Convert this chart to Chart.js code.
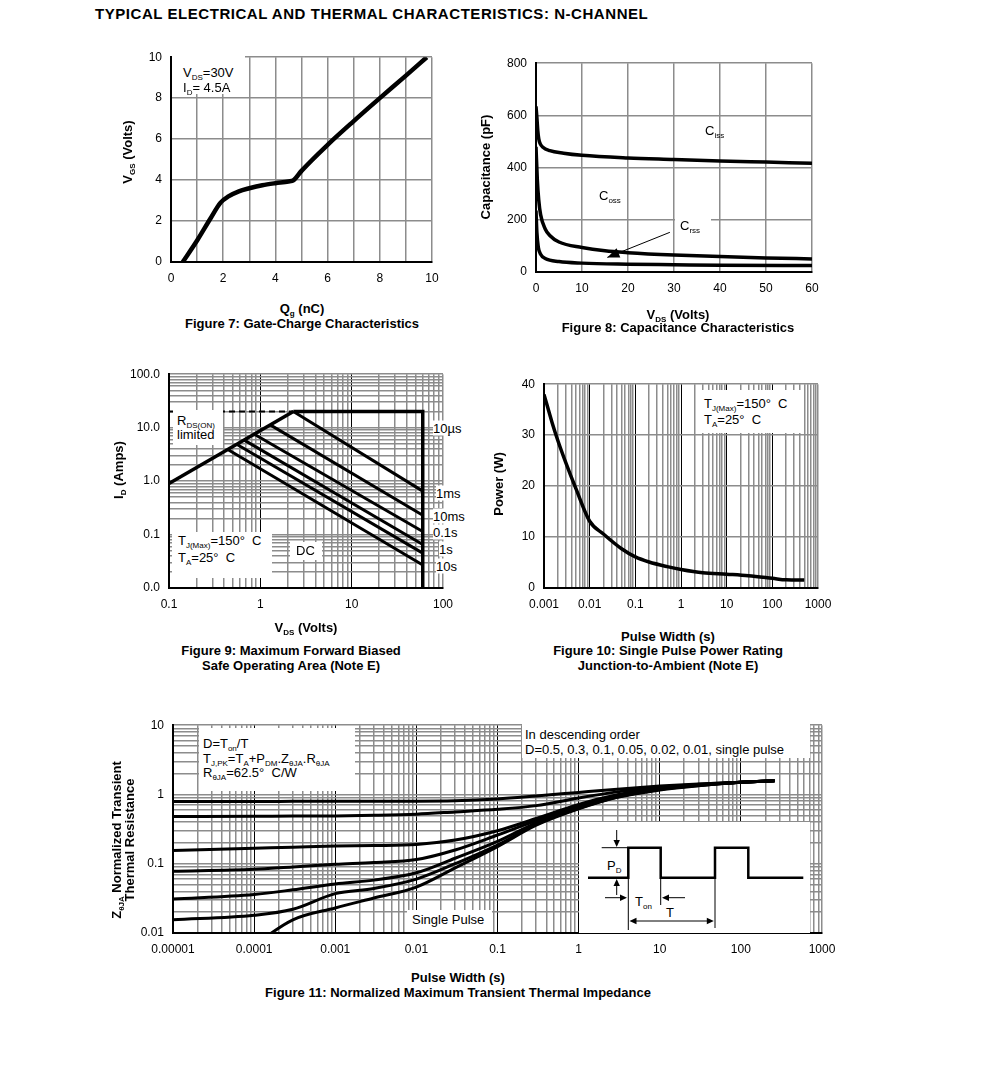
<!DOCTYPE html>
<html>
<head>
<meta charset="utf-8">
<script src="https://cdn.jsdelivr.net/npm/chart.js@4.4.1/dist/chart.umd.min.js"></script>
<style>
body{margin:0;background:#fff;width:991px;height:1067px;position:relative;overflow:hidden;font-family:"Liberation Sans",Arial,sans-serif;color:#000}
canvas{position:absolute}
.t{position:absolute;white-space:nowrap;font-size:13px;line-height:15px}
.b{font-weight:bold}
.c{transform:translate(-50%,-50%);text-align:center}
.m{transform:translateY(-50%)}
.r{transform:translate(-50%,-50%) rotate(-90deg);text-align:center}
.box{position:absolute;background:#fff}
sub{font-size:8px;vertical-align:-3px;line-height:0}
</style>
</head>
<body>
<div class="t b m" style="left:95px;top:13px;font-size:15px;letter-spacing:0.55px">TYPICAL ELECTRICAL AND THERMAL CHARACTERISTICS: N-CHANNEL</div>

<canvas id="fig7"></canvas>
<canvas id="fig8"></canvas>
<canvas id="fig9"></canvas>
<canvas id="fig10"></canvas>
<canvas id="fig11"></canvas>

<!-- Figure 7 -->
<div class="box" style="left:172px;top:54px;width:73px;height:40px"></div>
<div class="t m" style="left:183px;top:72px">V<sub>DS</sub>=30V</div>
<div class="t m" style="left:183px;top:87px">I<sub>D</sub>= 4.5A</div>
<div class="t b r" style="left:127px;top:152px">V<sub>GS</sub> (Volts)</div>
<div class="t b c" style="left:302px;top:308px">Q<sub>g</sub> (nC)</div>
<div class="t b c" style="left:302px;top:323px">Figure 7: Gate-Charge Characteristics</div>

<!-- Figure 8 -->
<div class="t m" style="left:705px;top:130px">C<sub>iss</sub></div>
<div class="t m" style="left:599px;top:195px">C<sub>oss</sub></div>
<div class="box" style="left:675px;top:215px;width:36px;height:21px"></div>
<div class="t m" style="left:680px;top:225px">C<sub>rss</sub></div>
<div class="t b r" style="left:485px;top:167px">Capacitance (pF)</div>
<div class="t b c" style="left:678px;top:314px">V<sub>DS</sub> (Volts)</div>
<div class="t b c" style="left:678px;top:327px">Figure 8: Capacitance Characteristics</div>

<!-- Figure 9 -->
<div class="box" style="left:173px;top:410px;width:50px;height:35px"></div>
<div class="t m" style="left:177px;top:420px">R<sub>DS(ON)</sub></div>
<div class="t m" style="left:177px;top:434px">limited</div>
<div class="box" style="left:172px;top:532px;width:100px;height:46px"></div>
<div class="t m" style="left:178px;top:540px">T<sub>J(Max)</sub>=150°&nbsp; C</div>
<div class="t m" style="left:178px;top:557px">T<sub>A</sub>=25°&nbsp; C</div>
<div class="box" style="left:290px;top:542px;width:32px;height:18px"></div>
<div class="t m" style="left:296px;top:550px">DC</div>
<div class="t m" style="left:433px;top:428px;background:#fff;padding-right:2px">10µs</div>
<div class="t m" style="left:436px;top:493px;background:#fff;padding-right:2px">1ms</div>
<div class="t m" style="left:433px;top:516px;background:#fff;padding-right:2px">10ms</div>
<div class="t m" style="left:433px;top:532px;background:#fff;padding-right:2px">0.1s</div>
<div class="t m" style="left:439px;top:549px;background:#fff;padding-right:2px">1s</div>
<div class="t m" style="left:436px;top:566px;background:#fff;padding-right:2px">10s</div>
<div class="t b r" style="left:118px;top:470px">I<sub>D</sub> (Amps)</div>
<div class="t b c" style="left:306px;top:627px">V<sub>DS</sub> (Volts)</div>
<div class="t b c" style="left:291px;top:650px">Figure 9: Maximum Forward Biased</div>
<div class="t b c" style="left:291px;top:665px">Safe Operating Area (Note E)</div>

<!-- Figure 10 -->
<div class="box" style="left:700px;top:390px;width:103px;height:43px"></div>
<div class="t m" style="left:704px;top:403px">T<sub>J(Max)</sub>=150°&nbsp; C</div>
<div class="t m" style="left:704px;top:419px">T<sub>A</sub>=25°&nbsp; C</div>
<div class="t b r" style="left:498px;top:484px">Power (W)</div>
<div class="t b c" style="left:668px;top:636px">Pulse Width (s)</div>
<div class="t b c" style="left:668px;top:650px">Figure 10: Single Pulse Power Rating</div>
<div class="t b c" style="left:668px;top:665px">Junction-to-Ambient (Note E)</div>

<!-- Figure 11 -->
<div class="box" style="left:199px;top:728px;width:156px;height:63px"></div>
<div class="t m" style="left:203px;top:743px">D=T<sub>on</sub>/T</div>
<div class="t m" style="left:203px;top:758px">T<sub>J,PK</sub>=T<sub>A</sub>+P<sub>DM</sub>.Z<sub>θJA</sub>.R<sub>θJA</sub></div>
<div class="t m" style="left:203px;top:772px">R<sub>θJA</sub>=62.5°&nbsp; C/W</div>
<div class="box" style="left:522px;top:723px;width:288px;height:35px"></div>
<div class="t m" style="left:525px;top:734px">In descending order</div>
<div class="t m" style="left:525px;top:749px">D=0.5, 0.3, 0.1, 0.05, 0.02, 0.01, single pulse</div>
<div class="box" style="left:407px;top:910px;width:85px;height:22px"></div>
<div class="t m" style="left:412px;top:919px">Single Pulse</div>
<div class="box" style="left:579px;top:822px;width:231px;height:111px">
  <svg width="231" height="111" style="position:absolute;left:0;top:0">
    <g stroke="#000" fill="none">
      <polyline stroke-width="2.5" points="9,55.7 49.3,55.7 49.3,25.7 81.7,25.7 81.7,55.7 136,55.7 136,25.7 169.3,25.7 169.3,55.7 224.3,55.7"/>
      <line x1="22.7" y1="25.7" x2="49.3" y2="25.7" stroke-width="1"/>
      <line x1="37.7" y1="8" x2="37.7" y2="20" stroke-width="1"/>
      <line x1="37.7" y1="73" x2="37.7" y2="61" stroke-width="1"/>
      <line x1="49.3" y1="55.7" x2="49.3" y2="108" stroke-width="1"/>
      <line x1="81.7" y1="55.7" x2="81.7" y2="83" stroke-width="1"/>
      <line x1="136" y1="55.7" x2="136" y2="106" stroke-width="1"/>
      <line x1="26" y1="75.7" x2="42" y2="75.7" stroke-width="1"/>
      <line x1="106" y1="75.7" x2="89" y2="75.7" stroke-width="1"/>
      <line x1="56" y1="99" x2="129" y2="99" stroke-width="1"/>
    </g>
    <g fill="#000">
      <polygon points="37.7,25 34.5,18 40.9,18"/>
      <polygon points="37.7,57 34.5,64 40.9,64"/>
      <polygon points="48,75.7 41,72.5 41,78.9"/>
      <polygon points="83,75.7 90,72.5 90,78.9"/>
      <polygon points="50.5,99 57.5,95.8 57.5,102.2"/>
      <polygon points="134.8,99 127.8,95.8 127.8,102.2"/>
    </g>
  </svg>
  <div class="t m" style="left:28px;top:43px">P<sub>D</sub></div>
  <div class="t m" style="left:56px;top:79px">T<sub>on</sub></div>
  <div class="t c" style="left:91px;top:90px">T</div>
</div>
<div class="t b r" style="left:123px;top:840px;line-height:13px">Z<sub>θJA</sub> Normalized Transient<br>Thermal Resistance</div>
<div class="t b c" style="left:458px;top:977px">Pulse Width (s)</div>
<div class="t b c" style="left:458px;top:992px">Figure 11: Normalized Maximum Transient Thermal Impedance</div>

<script>
// ---- Figure 7: gate charge ----
const fig7Qg  = [0.45, 1.0, 1.5, 1.9, 2.2, 2.6, 3.0, 3.5, 4.0, 4.5, 4.7, 5.0, 6.0, 7.0, 8.0, 9.0, 9.8];
const fig7Vgs = [0, 1.05, 2.1, 2.9, 3.2, 3.45, 3.6, 3.75, 3.85, 3.93, 4.0, 4.45, 5.72, 6.88, 8.0, 9.1, 10.0];
const fig7XLabels = [0, 2, 4, 6, 8, 10];

// ---- Figure 8: capacitance ----
const fig8CissV = [0, 0.2, 0.4, 0.6, 0.9, 1.5, 3, 6, 10, 20, 30, 40, 50, 60];
const fig8Ciss  = [635, 590, 540, 510, 492, 478, 465, 455, 447, 437, 431, 425, 421, 417];
const fig8CossV = [0, 0.3, 0.6, 1, 2, 3, 5, 10, 15, 20, 30, 40, 50, 60];
const fig8Coss  = [480, 350, 275, 220, 165, 140, 115, 94, 81, 74, 65, 59, 54, 50];
const fig8CrssV = [0, 0.2, 0.5, 1, 2, 5, 10, 20, 30, 40, 60];
const fig8Crss  = [235, 150, 95, 68, 52, 40, 34, 30, 28, 26, 25];
const fig8Arrow = { from: [29.1, 152], to: [15.5, 56] };

// ---- Figure 9: safe operating area ----
const fig9RdsV = [0.1, 2.3];
const fig9RdsI = [0.9, 20];
const fig9DashV = [0.1, 2.3];
const fig9DashI = [20, 20];
const fig9LimV = [2.3, 60, 60];
const fig9LimI = [20, 20, 0.01];
const fig9Pulses = {
  '10us': { v: [2.3, 60],  i: [20, 0.65] },
  '1ms':  { v: [1.27, 60], i: [11.4, 0.23] },
  '10ms': { v: [0.85, 60], i: [7.6, 0.114] },
  '0.1s': { v: [0.66, 60], i: [5.9, 0.065] },
  '1s':   { v: [0.55, 60], i: [4.9, 0.045] },
  '10s':  { v: [0.44, 60], i: [3.9, 0.027] }
};
const fig9XDecades = [0.1, 1, 10, 100];
const fig9XLabels  = ['0.1', '1', '10', '100'];
const fig9YDecades = [0.01, 0.1, 1, 10, 100];
const fig9YLabels  = ['0.0', '0.1', '1.0', '10.0', '100.0'];

// ---- Figure 10: single pulse power ----
const fig10T = [0.001, 0.0015, 0.002, 0.003, 0.005, 0.01, 0.02, 0.05, 0.1, 0.2, 0.5, 1, 3, 10, 30, 100, 200, 500];
const fig10P = [38, 32.5, 29, 24.6, 19.5, 13.1, 10.6, 7.7, 6.1, 5.1, 4.2, 3.65, 3.0, 2.7, 2.4, 1.9, 1.6, 1.55];
const fig10XDecades = [0.001, 0.01, 0.1, 1, 10, 100, 1000];
const fig10XLabels  = ['0.001', '0.01', '0.1', '1', '10', '100', '1000'];

// ---- Figure 11: transient thermal impedance ----
const fig11T = [1e-5, 1e-4, 3e-4, 1e-3, 3e-3, 1e-2, 3e-2, 0.1, 0.3, 1, 3, 10, 30, 100, 260];
const fig11D05  = [0.79, 0.79, 0.795, 0.80, 0.80, 0.80, 0.81, 0.86, 0.95, 1.07, 1.19, 1.32, 1.42, 1.50, 1.58];
const fig11D03  = [0.48, 0.485, 0.487, 0.49, 0.50, 0.52, 0.56, 0.61, 0.69, 0.89, 1.09, 1.28, 1.40, 1.50, 1.58];
const fig11D01  = [0.155, 0.167, 0.173, 0.18, 0.183, 0.19, 0.22, 0.30, 0.45, 0.72, 0.99, 1.24, 1.38, 1.50, 1.58];
const fig11D005 = [0.078, 0.083, 0.09, 0.098, 0.104, 0.115, 0.158, 0.26, 0.42, 0.68, 0.96, 1.22, 1.37, 1.50, 1.58];
const fig11D002 = [0.031, 0.036, 0.042, 0.051, 0.058, 0.074, 0.12, 0.21, 0.39, 0.65, 0.94, 1.20, 1.36, 1.50, 1.58];
const fig11D001 = [0.0155, 0.018, 0.022, 0.037, 0.044, 0.060, 0.10, 0.186, 0.37, 0.63, 0.92, 1.18, 1.35, 1.50, 1.58];
const fig11SP   = [null, 0.0067, 0.0155, 0.023, 0.032, 0.046, 0.087, 0.177, 0.36, 0.62, 0.91, 1.16, 1.34, 1.50, 1.58];
const fig11XDecades = [1e-5, 1e-4, 1e-3, 1e-2, 0.1, 1, 10, 100, 1000];
const fig11XLabels  = ['0.00001', '0.0001', '0.001', '0.01', '0.1', '1', '10', '100', '1000'];
const fig11YDecades = [0.01, 0.1, 1, 10];
const fig11YLabels  = ['0.01', '0.1', '1', '10'];

Chart.defaults.font.family = '"Liberation Sans", Arial, sans-serif';
Chart.defaults.font.size = 12;
Chart.defaults.color = '#000';

const GRID = '#8c8c8c';
const pts = (xs, ys) => xs.map((x, i) => ({ x: x, y: ys[i] }));
const isDecade = v => { const l = Math.log10(v); return Math.abs(l - Math.round(l)) < 1e-6; };

function minorTicks(dec) {
  const out = [];
  for (let i = 0; i < dec.length - 1; i++)
    for (let k = 1; k < 10; k++) out.push(+(k * dec[i]).toPrecision(6));
  out.push(dec[dec.length - 1]);
  return out;
}
function labelFor(v, dec, lab) {
  const i = dec.findIndex(d => Math.abs(d - v) <= d * 1e-6);
  return i < 0 ? '' : lab[i];
}

function linAxis(min, max, step, labels) {
  return {
    type: 'linear', min: min, max: max,
    ticks: { stepSize: step, padding: 9, autoSkip: false, maxRotation: 0,
      callback: v => labels.includes(v) ? String(v) : '' },
    grid: { color: GRID, lineWidth: 1.5, drawTicks: false },
    border: { display: true, color: '#000', width: 2 }
  };
}
function logAxis(dec, labels, blackMajor) {
  const min = dec[0], max = dec[dec.length - 1];
  const inner = c => blackMajor && c.tick && isDecade(c.tick.value) && c.tick.value > min && c.tick.value < max;
  return {
    type: 'logarithmic', min: min, max: max,
    afterBuildTicks: s => { s.ticks = minorTicks(dec).map(v => ({ value: v })); },
    ticks: { padding: 9, autoSkip: false, maxRotation: 0, callback: v => labelFor(v, dec, labels) },
    grid: { drawTicks: false, color: c => inner(c) ? '#000' : GRID, lineWidth: c => inner(c) ? 1 : 1.5 },
    border: { display: true, color: '#000', width: 2 }
  };
}

function line(data, width, extra) {
  return Object.assign({ data: data, borderColor: '#000', borderWidth: width, pointRadius: 0,
    fill: false, cubicInterpolationMode: 'monotone' }, extra || {});
}

function place(id, area, config) {
  const padL = 50, padT = 12, padR = 30, padB = 34;
  const cv = document.getElementById(id);
  cv.width = area[2] - area[0] + padL + padR;
  cv.height = area[3] - area[1] + padT + padB;
  cv.style.left = (area[0] - padL) + 'px';
  cv.style.top = (area[1] - padT) + 'px';
  const o = config.options;
  Object.assign(o, {
    responsive: false, animation: false, devicePixelRatio: 1, events: [],
    layout: { padding: { left: 0, top: padT, right: padR, bottom: 0 } },
    plugins: { legend: { display: false }, tooltip: { enabled: false } }
  });
  o.scales.x.afterFit = s => { s.height = padB; };
  o.scales.y.afterFit = s => { s.width = padL; };
  return new Chart(cv, config);
}

const arrowPlugin = {
  id: 'crssArrow',
  afterDatasetsDraw(ch) {
    const ctx = ch.ctx, xs = ch.scales.x, ys = ch.scales.y;
    const x0 = xs.getPixelForValue(fig8Arrow.from[0]), y0 = ys.getPixelForValue(fig8Arrow.from[1]);
    const x1 = xs.getPixelForValue(fig8Arrow.to[0]), y1 = ys.getPixelForValue(fig8Arrow.to[1]);
    const a = Math.atan2(y1 - y0, x1 - x0), L = 12, W = 5;
    ctx.save();
    ctx.strokeStyle = '#000'; ctx.fillStyle = '#000'; ctx.lineWidth = 1;
    ctx.beginPath(); ctx.moveTo(x0, y0); ctx.lineTo(x1, y1); ctx.stroke();
    ctx.beginPath();
    ctx.moveTo(x1, y1);
    ctx.lineTo(x1 - L * Math.cos(a) + W * Math.sin(a), y1 - L * Math.sin(a) - W * Math.cos(a));
    ctx.lineTo(x1 - L * Math.cos(a) - W * Math.sin(a), y1 - L * Math.sin(a) + W * Math.cos(a));
    ctx.closePath(); ctx.fill();
    ctx.restore();
  }
};

// Figure 7
place('fig7', [171, 53, 432, 262], {
  type: 'line',
  data: { datasets: [ line(pts(fig7Qg, fig7Vgs), 4.5) ] },
  options: { scales: { x: linAxis(0, 10, 1, fig7XLabels), y: linAxis(0, 10, 2, [0, 2, 4, 6, 8, 10]) } }
});

// Figure 8
place('fig8', [536, 59, 812, 272], {
  type: 'line',
  data: { datasets: [
    line(pts(fig8CissV, fig8Ciss), 3.5),
    line(pts(fig8CossV, fig8Coss), 3.5),
    line(pts(fig8CrssV, fig8Crss), 3.5)
  ] },
  options: { scales: { x: linAxis(0, 60, 10, [0, 10, 20, 30, 40, 50, 60]), y: linAxis(0, 800, 200, [0, 200, 400, 600, 800]) } },
  plugins: [arrowPlugin]
});

// Figure 9
const fig9Sets = [
  line(pts(fig9DashV, fig9DashI), 2, { borderDash: [6, 4], cubicInterpolationMode: 'default', tension: 0 }),
  line(pts(fig9RdsV, fig9RdsI), 3.5, { tension: 0, cubicInterpolationMode: 'default' }),
  line(pts(fig9LimV, fig9LimI), 3.5, { tension: 0, cubicInterpolationMode: 'default' })
];
Object.keys(fig9Pulses).forEach(k => {
  fig9Sets.push(line(pts(fig9Pulses[k].v, fig9Pulses[k].i), 3, { tension: 0, cubicInterpolationMode: 'default' }));
});
place('fig9', [169, 370, 443, 588], {
  type: 'line',
  data: { datasets: fig9Sets },
  options: { scales: { x: logAxis(fig9XDecades, fig9XLabels, true), y: logAxis(fig9YDecades, fig9YLabels, false) } }
});

// Figure 10
place('fig10', [544, 380, 818, 588], {
  type: 'line',
  data: { datasets: [ line(pts(fig10T, fig10P), 3.5) ] },
  options: { scales: { x: logAxis(fig10XDecades, fig10XLabels, true), y: linAxis(0, 40, 10, [0, 10, 20, 30, 40]) } }
});

// Figure 11
place('fig11', [173, 721, 822, 933], {
  type: 'line',
  data: { datasets: [fig11D05, fig11D03, fig11D01, fig11D005, fig11D002, fig11D001, fig11SP]
    .map(s => line(pts(fig11T, s), 3)) },
  options: { scales: { x: logAxis(fig11XDecades, fig11XLabels, true), y: logAxis(fig11YDecades, fig11YLabels, false) } }
});
</script>
</body>
</html>
